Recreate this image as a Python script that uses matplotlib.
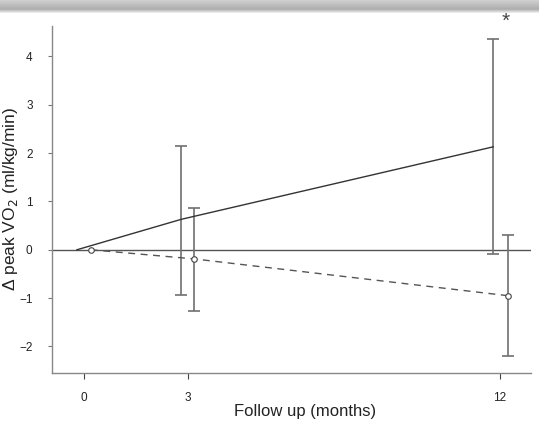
import numpy as np
import matplotlib
matplotlib.use("Agg")
import matplotlib.pyplot as plt

plt.rcParams["font.family"] = ["Liberation Sans", "DejaVu Sans"]

# follow-up months (points are dodged a little around each visit)
months = [0, 3, 12]
solid_x = [-0.2, 2.81, 11.81]
solid_y = [0.0, 0.63, 2.13]
solid_lo = [None, -0.93, -0.09]
solid_hi = [None, 2.15, 4.37]

dash_x = [0.2, 3.19, 12.23]
dash_y = [0.0, -0.19, -0.95]
dash_lo = [None, -1.26, -2.2]
dash_hi = [None, 0.87, 0.31]

yticks = [-2, -1, 0, 1, 2, 3, 4]

fig = plt.figure(figsize=(5.39, 4.22), dpi=100)

# grey band at the top of the screenshot
band = fig.add_axes([0, 1 - 13 / 422, 1, 13 / 422])
grad = np.concatenate([np.linspace(0.82, 0.68, 35), np.linspace(0.68, 0.95, 15)]).reshape(-1, 1)
band.imshow(grad, aspect="auto", cmap="gray", vmin=0, vmax=1, extent=[0, 1, 0, 1])
band.axis("off")

ax = fig.add_axes([52 / 539, 1 - 373 / 422, (531 - 52) / 539, (373 - 26) / 422])

ax.axhline(0, color="#555555", lw=1.0, zorder=1)

line_col = "#333333"
err_col = "#707070"

ax.plot(solid_x, solid_y, color=line_col, lw=1.0, zorder=3)
ax.plot(dash_x, dash_y, color="#555555", lw=1.0, ls=(0, (5, 4)), zorder=3)
ax.plot(dash_x, dash_y, ls="none", marker="o", ms=4, mfc="white",
        mec="#444444", mew=0.8, zorder=4)

for x, lo, hi in zip(solid_x[1:], solid_lo[1:], solid_hi[1:]):
    ax.errorbar([x], [(lo + hi) / 2], yerr=[[(hi - lo) / 2], [(hi - lo) / 2]],
                fmt="none", ecolor=err_col, elinewidth=1.2, capsize=4, capthick=1.2, zorder=2)
for x, lo, hi in zip(dash_x[1:], dash_lo[1:], dash_hi[1:]):
    ax.errorbar([x], [(lo + hi) / 2], yerr=[[(hi - lo) / 2], [(hi - lo) / 2]],
                fmt="none", ecolor=err_col, elinewidth=1.2, capsize=4, capthick=1.2, zorder=2)

ax.text(12.17, 4.72, "*", ha="center", va="center", fontsize=15, color="#444444")

ax.set_xlim(-0.92, 12.9)
ax.set_ylim(-2.55, 4.63)
ax.set_xticks(months)
ax.set_yticks(yticks)
ax.tick_params(axis="y", length=3, color="#777777", labelsize=8.5, pad=11, labelcolor="#222222")
ax.tick_params(axis="x", length=4.5, color="#444444", labelsize=8.5, pad=9, labelcolor="#222222")

for s in ["top", "right"]:
    ax.spines[s].set_visible(False)
for s in ["left", "bottom"]:
    ax.spines[s].set_color("#888888")
    ax.spines[s].set_linewidth(1.0)

ax.set_xlabel("Follow up (months)", fontsize=12, color="#222222")
ax.set_ylabel("Δ peak VO$_2$ (ml/kg/min)", fontsize=12.5, color="#222222")
ax.xaxis.set_label_coords(0.528, -0.09)
ax.yaxis.set_label_coords(-0.067, 0.501)

fig.savefig("out.png", dpi=100)
